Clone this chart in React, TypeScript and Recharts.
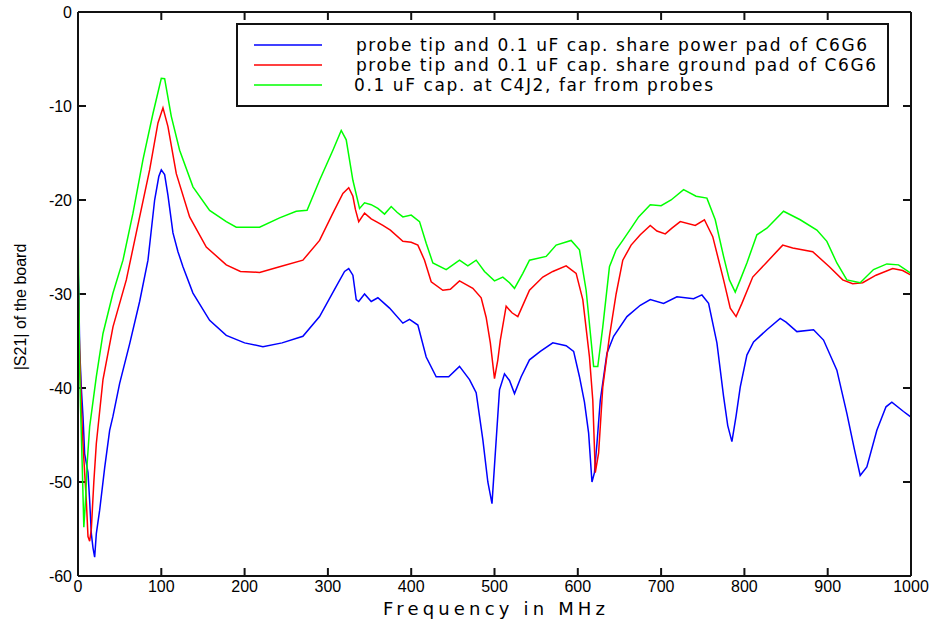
import { LineChart, Line, XAxis, YAxis, Label, ReferenceLine } from 'recharts';

const freqTicks = [0, 100, 200, 300, 400, 500, 600, 700, 800, 900, 1000];
const dbTicks = [0, -10, -20, -30, -40, -50, -60];

const seriesNames = [
  'probe tip and 0.1 uF cap. share power pad of C6G6',
  'probe tip and 0.1 uF cap. share ground pad of C6G6',
  '0.1 uF cap. at C4J2, far from probes',
];

// power pad (blue)
const blueFreq = [0, 1, 2, 4, 6, 8, 10, 12, 14, 16, 18, 20, 22, 26, 32, 38, 42, 50, 62, 74, 84, 92, 97, 100, 104, 108, 114, 120, 126, 138, 158, 178, 200, 222, 245, 270, 290, 310, 320, 325, 330, 334, 337, 344, 352, 360, 374, 390, 398, 408, 418, 430, 445, 458, 470, 478, 486, 492, 497, 501, 506, 512, 518, 524, 532, 542, 555, 570, 586, 595, 602, 608, 613, 617, 620, 623, 627, 635, 643, 659, 675, 687, 703, 719, 739, 749, 757, 767, 775, 780, 785, 790, 795, 803, 811, 827, 843, 850, 863, 883, 895, 911, 923, 932, 939, 947, 959, 970, 977, 991, 1000];
const blueDb = [-27, -30, -35.8, -40, -43, -47, -48, -49, -52, -55.5, -57, -58, -55.5, -53, -48.5, -44.5, -43, -39.5, -35.3, -30.8, -26.4, -20, -17.5, -16.8, -17.3, -19.5, -23.5, -25.5, -27.1, -29.9, -32.8, -34.4, -35.2, -35.6, -35.2, -34.5, -32.4, -29.2, -27.6, -27.3, -28, -30.6, -30.8, -30, -30.8, -30.4, -31.5, -33.1, -32.7, -33.3, -36.7, -38.8, -38.8, -37.7, -39.1, -40.5, -45.5, -50, -52.3, -46.9, -40.2, -38.5, -39.2, -40.6, -38.8, -37, -36.1, -35.2, -35.5, -36.1, -38.8, -41.5, -44.8, -50, -49, -45.9, -41.3, -36.3, -34.5, -32.4, -31.2, -30.6, -31, -30.3, -30.5, -30.1, -31, -35.2, -40.9, -44, -45.7, -43, -39.9, -36.5, -35.1, -33.8, -32.6, -33, -34, -33.8, -34.9, -38.1, -42.7, -46.5, -49.3, -48.4, -44.5, -42, -41.5, -42.5, -43.1];

// ground pad (red)
const redFreq = [0, 1, 2, 4, 6, 8, 10, 12, 14, 16, 19, 22, 30, 42, 58, 74, 86, 96, 102, 108, 118, 134, 154, 178, 195, 218, 242, 270, 290, 306, 318, 325, 330, 333, 337, 344, 352, 358, 366, 375, 390, 400, 408, 416, 424, 438, 447, 458, 466, 474, 484, 490, 495, 500, 504, 507, 514, 521, 528, 535, 542, 558, 570, 586, 598, 606, 614, 618, 621, 625, 630, 638, 646, 654, 664, 675, 687, 695, 705, 713, 723, 741, 752, 762, 775, 783, 790, 797, 810, 826, 846, 858, 882, 902, 918, 930, 942, 958, 978, 990, 1000];
const redDb = [-27, -33, -36, -42, -46, -49, -52, -55.8, -56.3, -55, -50, -45.9, -39.1, -33.5, -28.5, -21.8, -16.8, -11.8, -10.2, -12.2, -17.2, -21.8, -25, -26.9, -27.6, -27.7, -27.1, -26.4, -24.3, -21.4, -19.3, -18.7, -19.6, -21, -22.3, -21.4, -22, -22.3, -22.7, -23.2, -24.4, -24.5, -24.8, -26.4, -28.7, -29.6, -29.5, -28.6, -29, -29.4, -30.4, -32.5, -35.2, -39, -37, -34.9, -31.3, -32, -32.4, -31, -29.6, -28.2, -27.6, -27, -27.8, -30.6, -36.7, -41.3, -49, -46.9, -39.9, -34.5, -30, -26.4, -24.8, -23.7, -22.7, -23.3, -23.6, -23, -22.3, -22.7, -22.1, -23.9, -28.5, -31.5, -32.4, -31, -28.2, -26.7, -24.8, -25.1, -25.5, -27.1, -28.5, -28.9, -28.8, -28, -27.3, -27.5, -28];

// cap far from probes (green)
const greenFreq = [0, 1, 2, 3, 5, 7, 9, 11, 14, 22, 30, 42, 54, 66, 78, 90, 100, 104, 112, 122, 138, 158, 178, 190, 218, 242, 262, 275, 290, 306, 316, 322, 330, 338, 344, 352, 360, 368, 376, 383, 390, 400, 410, 418, 426, 442, 458, 468, 478, 488, 500, 510, 518, 524, 534, 542, 562, 574, 592, 602, 610, 616, 619, 624, 630, 638, 646, 654, 664, 673, 687, 700, 712, 727, 742, 755, 765, 775, 782, 789, 795, 803, 815, 827, 847, 867, 887, 899, 911, 923, 939, 955, 971, 985, 1000];
const greenDb = [-21, -30, -38, -42, -48, -54.8, -52, -48, -44.1, -38.8, -34.2, -29.9, -26.4, -21.4, -15.7, -10.8, -7.05, -7.1, -11.1, -14.7, -18.6, -21.1, -22.3, -22.9, -22.9, -21.9, -21.2, -21.1, -17.9, -14.7, -12.6, -13.6, -17.9, -20.9, -20.3, -20.5, -20.9, -21.5, -20.7, -21.3, -21.8, -21.6, -22.3, -24.6, -26.7, -27.4, -26.4, -27, -26.4, -27.6, -28.6, -28.2, -28.8, -29.4, -27.8, -26.4, -26, -24.8, -24.3, -25.3, -29.6, -35, -37.7, -37.7, -33.5, -27.1, -25.3, -24.3, -23, -21.8, -20.5, -20.6, -20, -18.9, -19.6, -19.8, -22.1, -26, -28.5, -29.8, -28.5, -26.7, -23.7, -23, -21.2, -22.1, -23.2, -24.4, -26.7, -28.5, -28.8, -27.4, -26.8, -26.9, -27.8];

const colors = ['#0000ff', '#ff0000', '#00ff00'];

const toPoints = (f: number[], v: number[]) => f.map((x, i) => ({ f: x, v: v[i] }));

const FONT = '"Liberation Sans", Arial, Helvetica, sans-serif';
const WIDE = '"DejaVu Sans", sans-serif';

// inward tick length, in data units (about 8px each way)
const xTickLen = 9.6;
const yTickLen = 0.85;

const BottomTick = (props: any) => {
  const { x, y, payload } = props;
  return (
    <text x={x} y={y + 16} textAnchor="middle" fontSize={16} fontFamily={FONT} fill="#000">
      {payload.value}
    </text>
  );
};

const LeftTick = (props: any) => {
  const { x, y, payload } = props;
  return (
    <text x={x - 6} y={y + 6} textAnchor="end" fontSize={16} fontFamily={FONT} fill="#000">
      {payload.value}
    </text>
  );
};

const NoTick = () => <g />;

const axisLineStyle = { stroke: '#111', strokeWidth: 2 };

export default function App() {
  const series = [
    toPoints(blueFreq, blueDb),
    toPoints(redFreq, redDb),
    toPoints(greenFreq, greenDb),
  ];
  // tick marks pointing into the box on all four sides
  const tickMarks: any[] = [];
  freqTicks.slice(1, -1).forEach((t) => {
    tickMarks.push([{ x: t, y: -60 }, { x: t, y: -60 + yTickLen }]);
    tickMarks.push([{ x: t, y: 0 }, { x: t, y: -yTickLen }]);
  });
  dbTicks.slice(1, -1).forEach((t) => {
    tickMarks.push([{ x: 0, y: t }, { x: xTickLen, y: t }]);
    tickMarks.push([{ x: 1000, y: t }, { x: 1000 - xTickLen, y: t }]);
  });
  return (
    <div style={{ position: 'absolute', left: 0, top: 0, width: 936, height: 623, background: '#fff' }}>
      <LineChart width={936} height={623} margin={{ top: 11, right: 24, bottom: 46, left: 77 }}>
        <XAxis
          xAxisId="bottom"
          type="number"
          dataKey="f"
          domain={[0, 1000]}
          ticks={freqTicks}
          height={1}
          tickSize={0}
          tickMargin={0}
          tickLine={false}
          tick={<BottomTick />}
          axisLine={axisLineStyle}
          interval={0}
        >
          <Label
            content={() => (
              <text x={494} y={615} textAnchor="middle" fontSize={18} fontFamily={WIDE} fill="#000" textLength={222} lengthAdjust="spacing">
                Frequency in MHz
              </text>
            )}
          />
        </XAxis>
        <XAxis
          xAxisId="top"
          orientation="top"
          type="number"
          domain={[0, 1000]}
          ticks={freqTicks}
          height={1}
          tickSize={0}
          tickLine={false}
          tick={<NoTick />}
          axisLine={axisLineStyle}
        />
        <YAxis
          yAxisId="left"
          type="number"
          domain={[-60, 0]}
          ticks={dbTicks}
          width={1}
          tickSize={0}
          tickMargin={0}
          tickLine={false}
          tick={<LeftTick />}
          axisLine={axisLineStyle}
          interval={0}
        >
          <Label
            content={() => (
              <text
                x={0}
                y={0}
                transform="translate(26, 307) rotate(-90)"
                textAnchor="middle"
                fontSize={16}
                fontFamily={FONT}
                fill="#000"
              >
                |S21| of the board
              </text>
            )}
          />
        </YAxis>
        <YAxis
          yAxisId="right"
          orientation="right"
          type="number"
          domain={[-60, 0]}
          ticks={dbTicks}
          width={1}
          tickSize={0}
          tickLine={false}
          tick={<NoTick />}
          axisLine={axisLineStyle}
        />
        {tickMarks.map((seg, i) => (
          <ReferenceLine
            key={'t' + i}
            xAxisId="bottom"
            yAxisId="left"
            segment={seg}
            stroke="#111"
            strokeWidth={2}
            ifOverflow="visible"
          />
        ))}
        {series.map((d, i) => (
          <Line
            key={i}
            xAxisId="bottom"
            yAxisId="left"
            data={d}
            dataKey="v"
            type="linear"
            stroke={colors[i]}
            strokeWidth={1.5}
            dot={false}
            isAnimationActive={false}
            name={seriesNames[i]}
          />
        ))}
      </LineChart>
      <svg
        width={654}
        height={84}
        style={{ position: 'absolute', left: 236, top: 23 }}
      >
        <rect x={1} y={1} width={651} height={82} fill="#fff" stroke="#111" strokeWidth={2} />
        {seriesNames.map((name, i) => (
          <g key={name}>
            <line x1={18} x2={86} y1={22 + i * 20} y2={22 + i * 20} stroke={colors[i]} strokeWidth={1.5} />
            <text
              x={i === 2 ? 118 : 120}
              y={28 + i * 20}
              fontSize={17}
              fontFamily={WIDE}
              fill="#000"
              textLength={[511, 520, 359][i]}
              lengthAdjust="spacing"
            >
              {name}
            </text>
          </g>
        ))}
      </svg>
    </div>
  );
}
